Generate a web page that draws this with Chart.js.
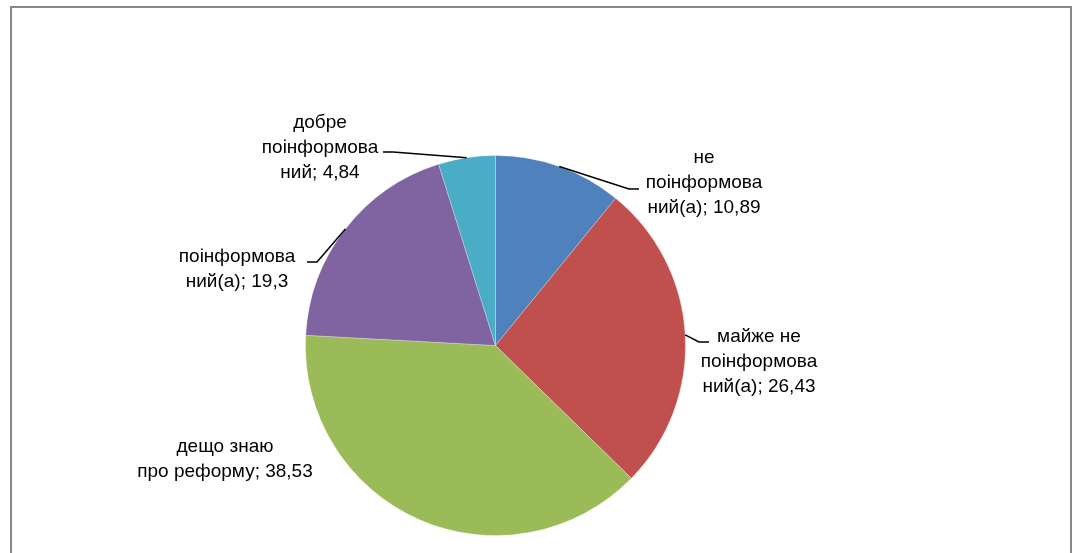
<!DOCTYPE html>
<html>
<head>
<meta charset="utf-8">
<script src="https://cdn.jsdelivr.net/npm/chart.js@4"></script>
<style>
    html, body {
        margin: 0;
        width: 1072px;
        height: 553px;
        overflow: hidden;
        background: #fff;
    }
    #frame {
        position: absolute;
        left: 10px;
        top: 6px;
        width: 1058px;
        height: 600px;
        border: 2px solid #878787;
    }
    #pie {
        position: absolute;
        left: 0;
        top: 0;
    }
</style>
</head>
<body>
<div id="frame"></div>
<canvas id="pie" width="1072" height="553"></canvas>
<script>
// ============================================
// Data
// ============================================

const categories = [
    'не\nпоінформова\nний(а)',
    'майже не\nпоінформова\nний(а)',
    'дещо знаю\nпро реформу',
    'поінформова\nний(а)',
    'добре\nпоінформова\nний'
];
const shares = [10.89, 26.43, 38.53, 19.3, 4.84];
const sliceColors = ['#4F81BD', '#C0504D', '#9BBB59', '#8064A2', '#4BACC6'];

// where each label sits: text centre, middle of first line, and end of its leader line
const labelSpots = [
    { x: 704, y: 158, lineEnd: [639, 189] },
    { x: 759, y: 337, lineEnd: [709, 342] },
    { x: 225, y: 447, lineEnd: null },
    { x: 237, y: 257, lineEnd: [307, 262] },
    { x: 320, y: 123, lineEnd: [383, 152] }
];

const LABEL_FONT = '19px "Liberation Sans", Arial, sans-serif';
const LINE_HEIGHT = 25;

function formatShare(v) {
    return String(v).replace('.', ',');
}

// ============================================
// Labels with leader lines
// ============================================

const sliceLabels = {
    id: 'sliceLabels',
    afterDraw(chart) {
        const ctx = chart.ctx;
        const arcs = chart.getDatasetMeta(0).data;
        ctx.save();
        ctx.font = LABEL_FONT;
        ctx.fillStyle = '#000';
        ctx.strokeStyle = '#000';
        ctx.lineWidth = 1.5;
        ctx.textAlign = 'center';
        ctx.textBaseline = 'middle';

        arcs.forEach((arc, i) => {
            const spot = labelSpots[i];
            const lines = categories[i].split('\n');
            lines[lines.length - 1] += '; ' + formatShare(shares[i]);

            if (spot.lineEnd) {
                // leader starts at the middle of the slice's outer edge
                const mid = (arc.startAngle + arc.endAngle) / 2;
                const sx = arc.x + Math.cos(mid) * arc.outerRadius;
                const sy = arc.y + Math.sin(mid) * arc.outerRadius;
                const [ex, ey] = spot.lineEnd;
                const kx = ex + (sx > ex ? 10 : -10);
                ctx.beginPath();
                ctx.moveTo(sx, sy);
                ctx.lineTo(kx, ey);
                ctx.lineTo(ex, ey);
                ctx.stroke();
            }

            lines.forEach((line, j) => {
                ctx.fillText(line, spot.x, spot.y + j * LINE_HEIGHT);
            });
        });
        ctx.restore();
    }
};

// ============================================
// Chart
// ============================================

new Chart(document.getElementById('pie').getContext('2d'), {
    type: 'pie',
    data: {
        labels: categories,
        datasets: [{
            data: shares,
            backgroundColor: sliceColors,
            borderColor: 'rgba(255, 255, 255, 0.25)',
            borderWidth: 1
        }]
    },
    options: {
        responsive: false,
        animation: false,
        devicePixelRatio: 1,
        layout: {
            padding: { left: 305, right: 386, top: 155, bottom: 17 }
        },
        plugins: {
            legend: { display: false },
            tooltip: { enabled: false }
        }
    },
    plugins: [sliceLabels]
});
</script>
</body>
</html>
